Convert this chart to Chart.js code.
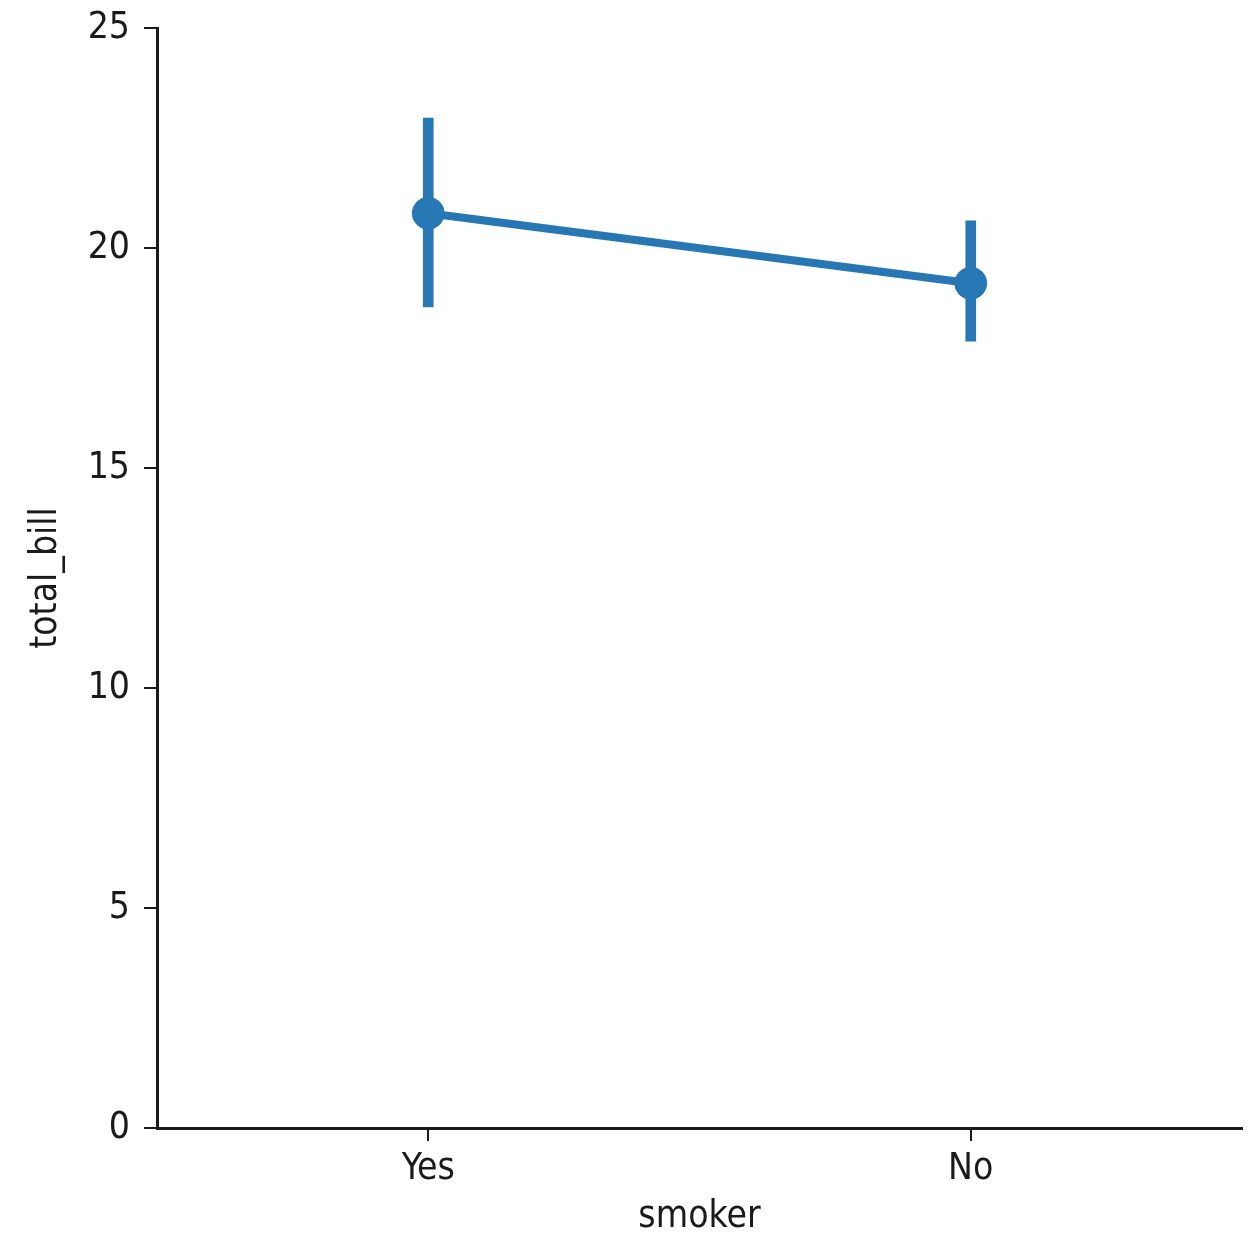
<!DOCTYPE html>
<html>
<head>
<meta charset="utf-8">
<script src="https://cdn.jsdelivr.net/npm/chart.js@4/dist/chart.umd.min.js"></script>
<style>
html,body{margin:0;padding:0;background:#fff;}
#wrap{width:1259px;height:1237px;}
</style>
</head>
<body>
<div id="wrap"><canvas id="c" width="1259" height="1237"></canvas></div>
<script>
const categories = ["Yes", "No"];
const meanBill = [20.79, 19.2];
const ciLow = [18.66, 17.88];
const ciHigh = [22.95, 20.62];
const yTicks = [0, 5, 10, 15, 20, 25];

const blue = "#2777b4";
const ink = "#1a1a1a";
const fontFam = "'DejaVu Sans Condensed','Liberation Sans Narrow','DejaVu Sans',sans-serif";

new Chart(document.getElementById("c"), {
  data: {
    labels: categories,
    datasets: [
      {
        type: "line",
        label: "total_bill",
        data: meanBill,
        borderColor: blue,
        backgroundColor: blue,
        borderWidth: 8,
        pointRadius: 16,
        pointBorderWidth: 1,
        pointBackgroundColor: blue,
        pointBorderColor: blue,
        tension: 0,
        order: 0
      },
      {
        type: "bar",
        label: "ci",
        data: categories.map((c, i) => [ciLow[i], ciHigh[i]]),
        backgroundColor: blue,
        borderWidth: 0,
        barThickness: 10,
        order: 1
      }
    ]
  },
  options: {
    responsive: false,
    animation: false,
    layout: { padding: { top: 28, right: 16, left: 0, bottom: 0 } },
    plugins: { legend: { display: false }, tooltip: { enabled: false } },
    scales: {
      x: {
        type: "category",
        offset: true,
        grid: { display: true, offset: false, drawOnChartArea: false, drawTicks: true, tickLength: 13, color: ink, lineWidth: 2 },
        border: { display: true, color: ink, width: 3 },
        ticks: { color: ink, font: { family: fontFam, size: 37 }, padding: 6 },
        title: { display: true, text: "smoker", color: ink, font: { family: fontFam, size: 37 }, padding: { top: 4, bottom: -3 } },
        afterFit: (s) => { s.height = 109; s.paddingLeft = 0; s.paddingRight = 0; }
      },
      y: {
        min: 0,
        max: 25,
        afterBuildTicks: (s) => { s.ticks = yTicks.map(v => ({ value: v })); },
        grid: { display: true, drawOnChartArea: false, drawTicks: true, tickLength: 13, color: ink, lineWidth: 2 },
        border: { display: true, color: ink, width: 3 },
        ticks: { color: ink, font: { family: fontFam, size: 37 }, padding: 14 },
        title: { display: true, text: "total_bill", color: ink, font: { family: fontFam, size: 37 }, padding: { top: 24, bottom: 0 } },
        afterFit: (s) => { s.width = 157; s.paddingTop = 0; s.paddingBottom = 0; }
      }
    }
  }
});
</script>
</body>
</html>
